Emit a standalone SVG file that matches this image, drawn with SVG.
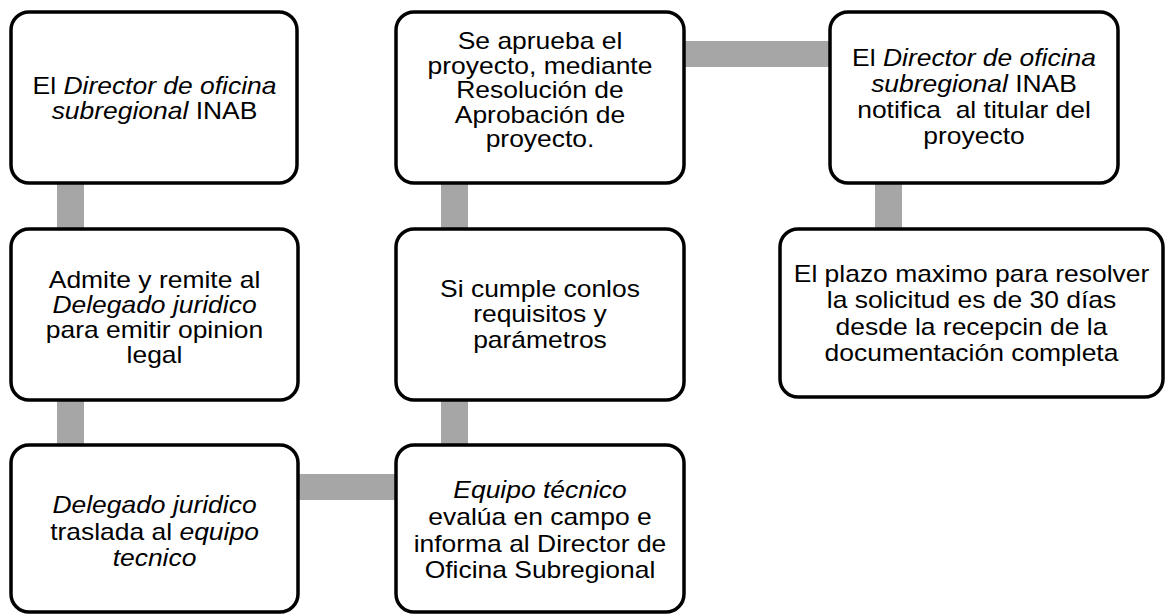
<svg xmlns="http://www.w3.org/2000/svg" width="1167" height="615" viewBox="0 0 1167 615">
<style>
.box{fill:#ffffff;stroke:#000000;stroke-width:3.5}
.con{fill:#a6a6a6;stroke:none}
.t{font-family:"Liberation Sans",Arial,sans-serif;font-size:23px;fill:#000000;text-anchor:middle}
.i{font-style:italic}
</style>
<rect width="1167" height="615" fill="#ffffff"/>
<g id="connectors">
<rect class="con" x="57" y="182" width="27" height="48"/>
<rect class="con" x="57" y="399" width="27" height="47"/>
<rect class="con" x="297" y="474" width="100" height="26"/>
<rect class="con" x="441" y="399" width="27" height="47"/>
<rect class="con" x="441" y="182" width="27" height="48"/>
<rect class="con" x="683" y="41" width="148" height="26"/>
<rect class="con" x="875" y="182" width="27" height="48"/>
</g>
<g id="n1">
<rect class="box" x="11" y="12" width="286" height="171" rx="18"/>
<text class="t" transform="translate(154.5,0) scale(1.15,1)"><tspan x="0" y="94">El <tspan class="i">Director de oficina</tspan></tspan><tspan x="0" y="119"><tspan class="i">subregional</tspan> INAB</tspan></text>
</g>
<g id="n2">
<rect class="box" x="11" y="229" width="287" height="171" rx="18"/>
<text class="t" transform="translate(154.5,0) scale(1.15,1)"><tspan x="0" y="288">Admite y remite al</tspan><tspan x="0" y="313" class="i">Delegado juridico</tspan><tspan x="0" y="338">para emitir opinion</tspan><tspan x="0" y="363">legal</tspan></text>
</g>
<g id="n3">
<rect class="box" x="11" y="445" width="287" height="167" rx="18"/>
<text class="t" transform="translate(154.5,0) scale(1.15,1)"><tspan x="0" y="513" class="i">Delegado juridico</tspan><tspan x="0" y="540">traslada al <tspan class="i">equipo</tspan></tspan><tspan x="0" y="566" class="i">tecnico</tspan></text>
</g>
<g id="n4">
<rect class="box" x="396" y="445" width="288" height="167" rx="18"/>
<text class="t" transform="translate(540,0) scale(1.15,1)"><tspan x="0" y="498" class="i">Equipo técnico</tspan><tspan x="0" y="525">evalúa en campo e</tspan><tspan x="0" y="552">informa al Director de</tspan><tspan x="0" y="578">Oficina Subregional</tspan></text>
</g>
<g id="n5">
<rect class="box" x="396" y="229" width="288" height="171" rx="18"/>
<text class="t" transform="translate(540,0) scale(1.15,1)"><tspan x="0" y="297">Si cumple conlos</tspan><tspan x="0" y="322">requisitos y</tspan><tspan x="0" y="348">parámetros</tspan></text>
</g>
<g id="n6">
<rect class="box" x="396" y="12" width="288" height="171" rx="18"/>
<text class="t" transform="translate(540,0) scale(1.15,1)"><tspan x="0" y="49.5">Se aprueba el</tspan><tspan x="0" y="74">proyecto, mediante</tspan><tspan x="0" y="98.5">Resolución de</tspan><tspan x="0" y="123">Aprobación de</tspan><tspan x="0" y="147.5">proyecto.</tspan></text>
</g>
<g id="n7">
<rect class="box" x="830" y="12" width="288" height="171" rx="18"/>
<text class="t" transform="translate(974,0) scale(1.15,1)"><tspan x="0" y="66">El <tspan class="i">Director de oficina</tspan></tspan><tspan x="0" y="92"><tspan class="i">subregional</tspan> INAB</tspan><tspan x="0" y="118" xml:space="preserve">notifica  al titular del</tspan><tspan x="0" y="144">proyecto</tspan></text>
</g>
<g id="n8">
<rect class="box" x="780" y="229" width="383" height="168" rx="18"/>
<text class="t" transform="translate(971.5,0) scale(1.15,1)"><tspan x="0" y="282">El plazo maximo para resolver</tspan><tspan x="0" y="308">la solicitud es de 30 días</tspan><tspan x="0" y="335">desde la recepcin de la</tspan><tspan x="0" y="361">documentación completa</tspan></text>
</g>
</svg>
